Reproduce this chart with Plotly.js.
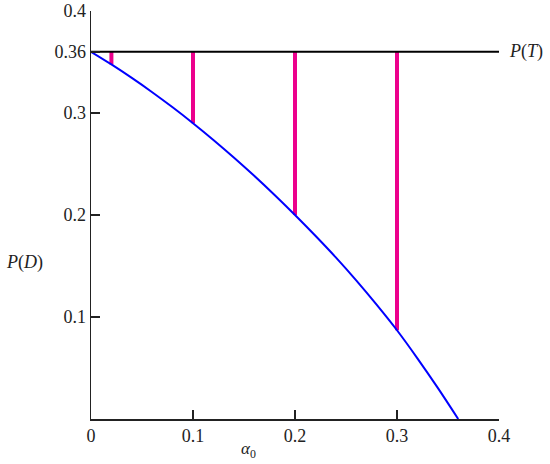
<!DOCTYPE html>
<html>
<head>
<meta charset="utf-8">
<script src="https://cdn.plot.ly/plotly-3.0.1.min.js"></script>
<style>
  html, body { margin: 0; padding: 0; background: #fff; }
  #chart { width: 550px; height: 464px; }
</style>
</head>
<body>
<div id="chart"></div>
<script>
// values
var alpha = [0, 0.02, 0.04, 0.06, 0.08, 0.10, 0.12, 0.14, 0.16, 0.18, 0.20, 0.22, 0.24, 0.26, 0.28, 0.30, 0.32, 0.34, 0.36];
var pD = [0.36, 0.3476, 0.3344, 0.3204, 0.3056, 0.29, 0.2736, 0.2564, 0.2384, 0.2196, 0.2, 0.1796, 0.1584, 0.1359, 0.1121, 0.087, 0.0595, 0.0305, 0.0];
var pT = 0.36;
var pTx = [0, 0.4];
var dropX = [0.02, 0.1, 0.2, 0.3];
var dropLow = [0.3476, 0.29, 0.2, 0.087];
var yTickVals = [0.1, 0.2, 0.3, 0.36, 0.4];
var yTickText = ['0.1', '0.2', '0.3', '0.36', '0.4'];
var xTickVals = [0, 0.1, 0.2, 0.3, 0.4];
var xTickText = ['0', '0.1', '0.2', '0.3', '0.4'];

window.onload = function () {
	drawChart();
}

function drawChart() {
	var target = document.getElementById('chart');

	// vertical gaps between P(T) and the curve
	var segX = [], segY = [];
	dropX.forEach(function (x, i) {
		segX.push(x, x, null);
		segY.push(dropLow[i], pT, null);
	});

	var data = [
		{
			x: segX, y: segY,
			mode: 'lines', type: 'scatter',
			line: {color: '#ec008c', width: 4},
			cliponaxis: false, hoverinfo: 'skip'
		},
		{
			x: pTx, y: [pT, pT],
			mode: 'lines', type: 'scatter',
			line: {color: '#000', width: 2},
			cliponaxis: false
		},
		{
			x: alpha, y: pD,
			mode: 'lines', type: 'scatter',
			line: {color: '#0000ff', width: 2, shape: 'spline', smoothing: 1},
			cliponaxis: false
		}
	];

	var font = {family: 'Liberation Serif, serif', size: 18, color: '#222'};

	var layout = {
		width: 550, height: 464,
		margin: {l: 91, r: 51, t: 11, b: 45},
		showlegend: false,
		paper_bgcolor: '#fff', plot_bgcolor: '#fff',
		font: font,
		xaxis: {
			range: [0, 0.4], showgrid: false, zeroline: false,
			showline: true, linecolor: '#222', linewidth: 1.5,
			ticks: 'inside', ticklen: 9, tickwidth: 1.5, tickcolor: '#222',
			tickvals: xTickVals, ticktext: xTickText,
			tickfont: font
		},
		yaxis: {
			range: [0, 0.4], showgrid: false, zeroline: false,
			showline: true, linecolor: '#222', linewidth: 1.5,
			ticks: 'inside', ticklen: 9, tickwidth: 1.5, tickcolor: '#222',
			tickvals: yTickVals, ticktext: yTickText,
			tickfont: font
		},
		annotations: [
			{
				text: '<i>P</i>(<i>T</i>)', x: 0.4, y: pT, xref: 'x', yref: 'y',
				xanchor: 'left', yanchor: 'middle', xshift: 8, showarrow: false,
				font: font
			},
			{
				text: '<i>P</i>(<i>D</i>)', x: 0, y: 0.153, xref: 'paper', yref: 'y',
				xanchor: 'right', yanchor: 'middle', xshift: -46, showarrow: false,
				font: font
			},
			{
				text: '<i>α</i><sub>0</sub>', x: 0.154, y: 0, xref: 'x', yref: 'paper',
				xanchor: 'center', yanchor: 'middle', yshift: -31, showarrow: false,
				font: {family: font.family, size: 17, color: '#222'}
			}
		]
	};

	Plotly.newPlot(target, data, layout, {displayModeBar: false, staticPlot: true});
}
</script>
</body>
</html>
